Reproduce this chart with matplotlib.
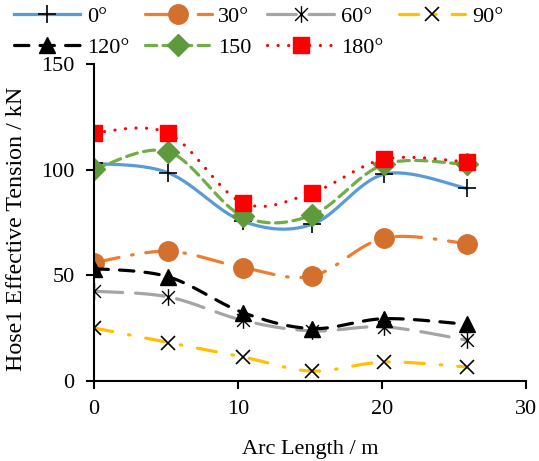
import numpy as np
import matplotlib.pyplot as plt
from matplotlib.path import Path

plt.rcParams['font.family'] = ['Liberation Serif', 'DejaVu Serif']
plt.rcParams['font.size'] = 16

# ================= DATA =================
arc_len = [0, 5.16, 10.33, 15.14, 20.17, 25.9]
labels = ['0°', '30°', '60°', '90°', '120°', '150', '180°']
t_0 = [103.0, 98.5, 75.6, 74.1, 97.9, 91.1]
t_30 = [56.0, 61.4, 53.7, 49.6, 67.7, 65.0]
t_60 = [42.5, 39.8, 28.7, 23.7, 25.6, 19.3]
t_90 = [25.1, 18.2, 11.4, 4.7, 9.0, 6.6]
t_120 = [53.2, 49.3, 32.4, 24.8, 29.5, 26.8]
t_150 = [100.1, 108.5, 78.0, 78.5, 102.6, 102.5]
t_180 = [117.5, 117.2, 84.3, 89.1, 105.0, 103.7]
series = [t_0, t_30, t_60, t_90, t_120, t_150, t_180]

# excel style asterisk: x plus a vertical bar
star = Path([(-1, -1), (1, 1), (-1, 1), (1, -1), (0, -1.3), (0, 1.3)],
            [Path.MOVETO, Path.LINETO, Path.MOVETO, Path.LINETO, Path.MOVETO, Path.LINETO])

STYLES = [
    dict(color='#5B9BD5', ls='-', marker='+', ms=13, mec='black', mfc='black', mew=1.2),
    dict(color='#ED7D31', ls=(0, (8, 4, 0.5, 4)), marker='o', ms=14, mec='#D4702E', mfc='#D4702E'),
    dict(color='#A5A5A5', ls=(0, (9, 4)), marker=star, ms=12, mec='black', mfc='none', mew=1.0),
    dict(color='#FFC000', ls=(0, (6, 5, 0.5, 5)), marker='x', ms=10, mec='black', mew=1.2),
    dict(color='black', ls=(0, (4.5, 3.5)), marker='^', ms=11, mec='black', mfc='black'),
    dict(color='#70AD47', ls=(0, (3.5, 2)), marker='D', ms=11, mec='#5E9A3C', mfc='#5E9A3C'),
    dict(color='red', ls=(0, (0.01, 3.3)), marker='s', ms=11, mec='red', mfc='red'),
]

X0, X1, Y0, Y1 = 0, 30, 0, 150
AX_W, AX_H = 432, 317  # pixels


def smooth(x, y, n=30):
    # catmull-rom in pixel space, like excel's smoothed line
    px = np.asarray(x) / (X1 - X0) * AX_W
    py = np.asarray(y) / (Y1 - Y0) * AX_H
    P = np.column_stack([px, py])
    P = np.vstack([P[0], P, P[-1]])
    out = []
    t = np.linspace(0, 1, n)[:, None]
    for i in range(1, len(P) - 2):
        p0, p1, p2, p3 = P[i - 1], P[i], P[i + 1], P[i + 2]
        c1 = p1 + (p2 - p0) / 6
        c2 = p2 - (p3 - p1) / 6
        seg = (1 - t) ** 3 * p1 + 3 * (1 - t) ** 2 * t * c1 + 3 * (1 - t) * t ** 2 * c2 + t ** 3 * p2
        out.append(seg if i == 1 else seg[1:])
    out = np.vstack(out)
    return out[:, 0] / AX_W * (X1 - X0), out[:, 1] / AX_H * (Y1 - Y0)


fig = plt.figure(figsize=(5.39, 4.61), dpi=100)
ax = fig.add_axes([0.1744, 0.1735, 0.976 - 0.1744, 0.8612 - 0.1735])

handles = []
for vals, lab, st in zip(series, labels, STYLES):
    sx, sy = smooth(arc_len, vals)
    ax.plot(sx, sy, color=st['color'], ls=st['ls'], lw=2.3,
            dash_capstyle='round', solid_capstyle='round')
    ax.plot(arc_len, vals, ls='none', marker=st['marker'], ms=st['ms'],
            mec=st['mec'], mfc=st.get('mfc', 'none'), mew=st.get('mew', 1.0))
    h, = ax.plot([], [], color=st['color'], ls=st['ls'], lw=2.3,
                 dash_capstyle='round', marker=st['marker'], ms=st['ms'],
                 mec=st['mec'], mfc=st.get('mfc', 'none'), mew=st.get('mew', 1.0))
    handles.append(h)

ax.set_xlim(X0, X1)
ax.set_ylim(Y0, Y1)
ax.set_xticks([0, 10, 20, 30])
ax.set_yticks([0, 50, 100, 150])
ax.spines['top'].set_visible(False)
ax.spines['right'].set_visible(False)
for s in ['left', 'bottom']:
    ax.spines[s].set_linewidth(1.5)
ax.tick_params(direction='out', length=6, width=1.5, pad=8)
ax.set_xlabel('Arc Length / m', labelpad=15)
ax.set_ylabel('Hose1 Effective Tension / kN', fontsize=17.3)
ax.yaxis.set_label_coords(-0.155, 0.479)

# legend rows: 0,30,60,90 / 120,150,180 (matplotlib fills column-wise)
order = [0, 4, 1, 5, 2, 6, 3]
fig.legend([handles[i] for i in order], [labels[i] for i in order],
           ncol=4, loc='upper left', bbox_to_anchor=(0.005, 1.01), frameon=False,
           handlelength=3.0, handletextpad=0.3, columnspacing=0.7,
           labelspacing=0.45, borderaxespad=0.1)

fig.savefig('out.png', dpi=100)
